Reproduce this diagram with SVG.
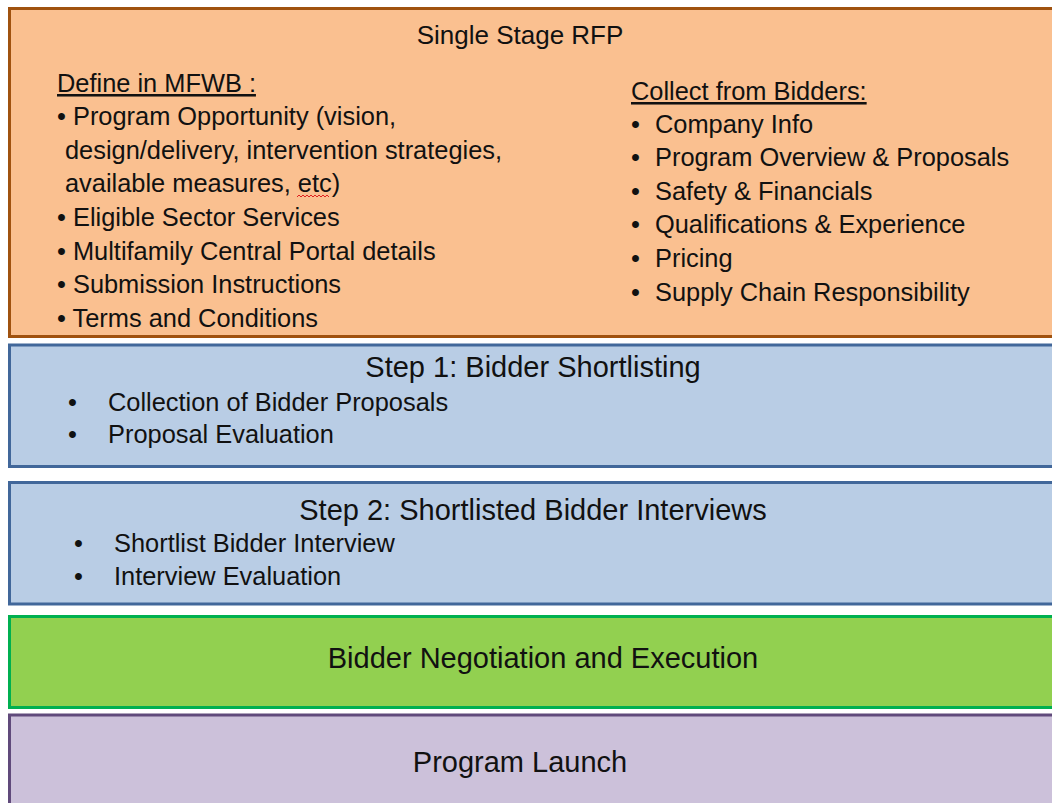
<svg xmlns="http://www.w3.org/2000/svg" width="1052" height="803" viewBox="0 0 1052 803">
<style>
text{font-family:"Liberation Sans",Arial,sans-serif;fill:#111;font-size:25.4px}
.h{font-size:26px;text-anchor:middle}
.h2{font-size:29px;text-anchor:middle}
.u{text-decoration:underline}
</style>
<rect width="1052" height="803" fill="#fff"/>
<g id="rfp">
<rect x="9.5" y="8.5" width="1060" height="328" fill="#FAC090" stroke="#A0520F" stroke-width="3"/>
<text class="h" x="520" y="44">Single Stage RFP</text>
<text class="u" x="57" y="92">Define in MFWB :</text>
<text x="57" y="125">• Program Opportunity (vision,</text>
<text x="65" y="159">design/delivery, intervention strategies,</text>
<text x="65" y="192">available measures, etc)</text>
<path d="M297 197 l2 -2 l2 2 l2 -2 l2 2 l2 -2 l2 2 l2 -2 l2 2 l2 -2 l2 2 l2 -2 l2 2 l2 -2 l2 2 l2 -2 l2 2" fill="none" stroke="#E02020" stroke-width="1"/>
<text x="57" y="226">• Eligible Sector Services</text>
<text x="57" y="260">• Multifamily Central Portal details</text>
<text x="57" y="293">• Submission Instructions</text>
<text x="57" y="327">• Terms and Conditions</text>
<text class="u" x="631" y="100">Collect from Bidders:</text>
<text x="631" y="133">•</text><text x="655" y="133">Company Info</text>
<text x="631" y="166">•</text><text x="655" y="166">Program Overview &amp; Proposals</text>
<text x="631" y="200">•</text><text x="655" y="200">Safety &amp; Financials</text>
<text x="631" y="233">•</text><text x="655" y="233">Qualifications &amp; Experience</text>
<text x="631" y="267">•</text><text x="655" y="267">Pricing</text>
<text x="631" y="301">•</text><text x="655" y="301">Supply Chain Responsibility</text>
</g>
<g id="step1">
<rect x="9.5" y="345" width="1060" height="121.5" fill="#B9CDE5" stroke="#41679A" stroke-width="3"/>
<text class="h2" x="533" y="377">Step 1: Bidder Shortlisting</text>
<text x="68" y="411">•</text><text x="108" y="411">Collection of Bidder Proposals</text>
<text x="68" y="443">•</text><text x="108" y="443">Proposal Evaluation</text>
</g>
<g id="step2">
<rect x="9.5" y="482.5" width="1060" height="121.5" fill="#B9CDE5" stroke="#41679A" stroke-width="3"/>
<text class="h2" x="533" y="520">Step 2: Shortlisted Bidder Interviews</text>
<text x="74" y="552">•</text><text x="114" y="552">Shortlist Bidder Interview</text>
<text x="74" y="585">•</text><text x="114" y="585">Interview Evaluation</text>
</g>
<g id="negotiation">
<rect x="9.5" y="616.5" width="1060" height="91" fill="#92D050" stroke="#00B050" stroke-width="3"/>
<text class="h2" x="543" y="668">Bidder Negotiation and Execution</text>
</g>
<g id="launch">
<rect x="9.5" y="715" width="1060" height="100" fill="#CCC1DA" stroke="#604A7B" stroke-width="3"/>
<text class="h2" x="520" y="772">Program Launch</text>
</g>
<g id="connectors"></g>
</svg>
